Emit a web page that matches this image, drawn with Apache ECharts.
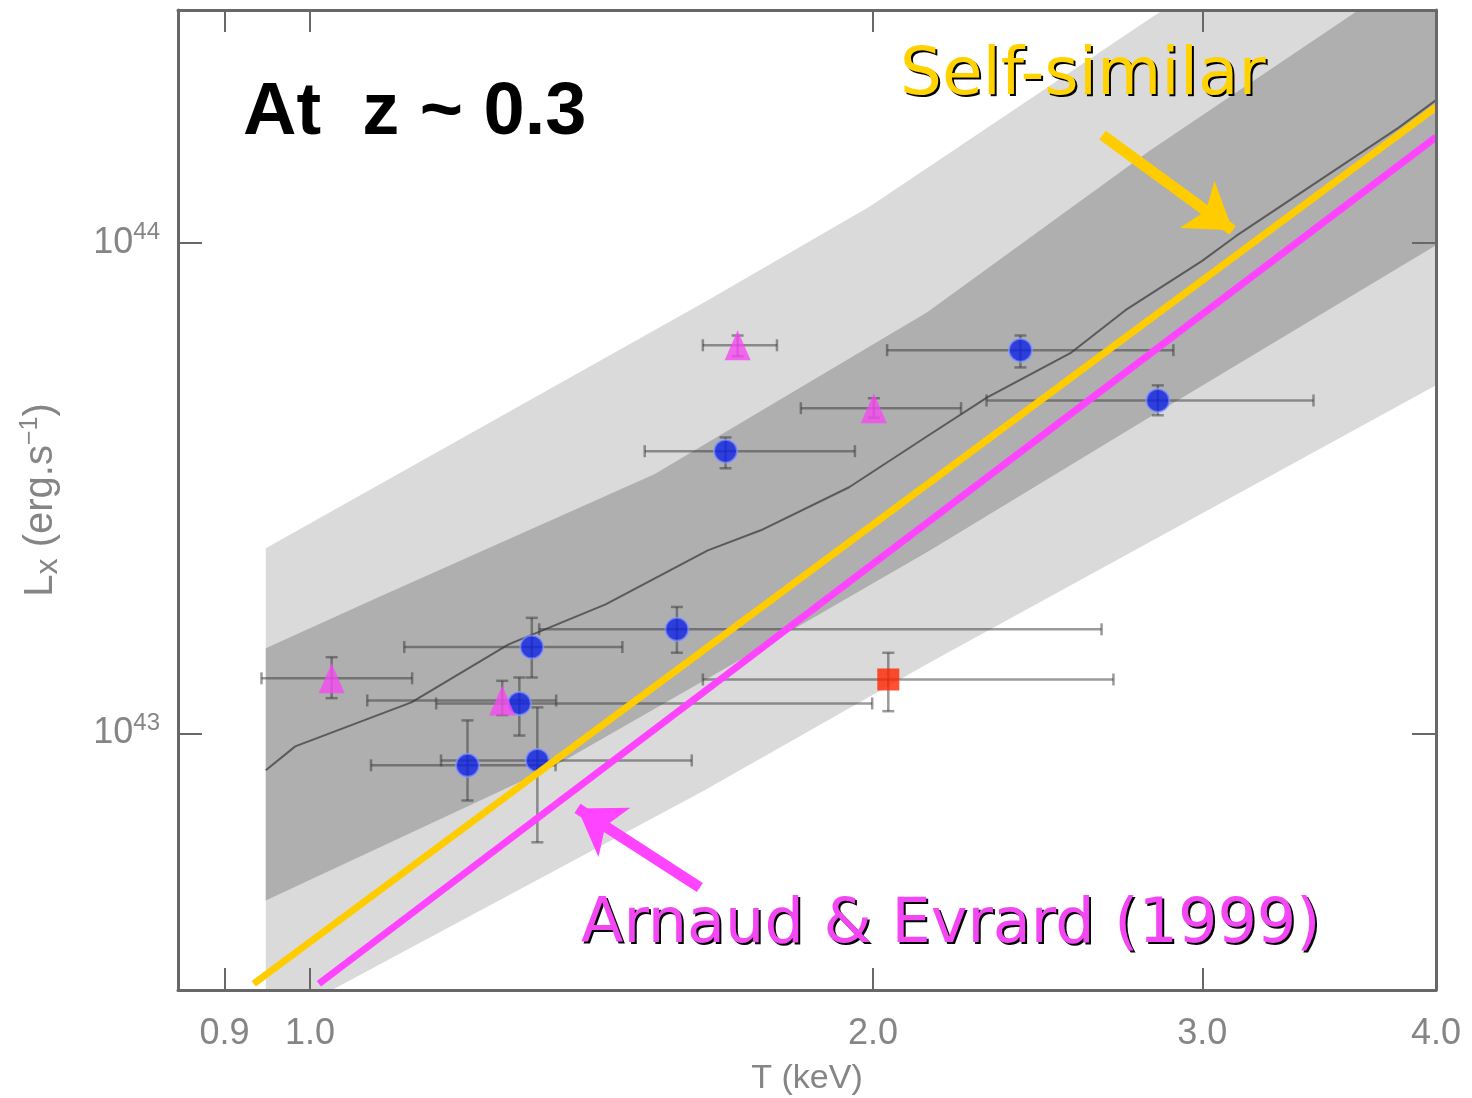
<!DOCTYPE html>
<html>
<head>
<meta charset="utf-8">
<title>Lx-T at z ~ 0.3</title>
<script src="https://cdn.jsdelivr.net/npm/echarts@6/dist/echarts.min.js"></script>
<style>
  html, body { margin: 0; padding: 0; background: #fff; }
  #chart { width: 1472px; height: 1098px; }
</style>
</head>
<body>
<div id="chart"></div>
<script>
// axis ranges (T in keV, Lx in erg/s)
const tRange = [0.85, 4.0]
const lRange = [3.0e42, 2.98e44]
const tTicks = [0.9, 1.0, 2.0, 3.0, 4.0]
const lTicks = [1e43, 1e44]

// clusters: [T, Lx, Tlow, Thigh, Llow, Lhigh]
const blueClusters = [
  [2.398, 6.04e43, 2.035, 2.895, 5.57e43, 6.47e43],
  [2.840, 4.77e43, 2.300, 3.440, 4.45e43, 5.12e43],
  [1.668, 3.76e43, 1.510, 1.956, 3.47e43, 4.01e43],
  [1.571, 1.63e43, 1.326, 2.650, 1.46e43, 1.81e43],
  [1.314, 1.50e43, 1.123, 1.469, 1.30e43, 1.72e43],
  [1.294, 1.151e43, 1.168, 1.998, 0.99e43, 1.30e43],
  [1.214, 8.61e42, 1.078, 1.353, 7.30e42, 1.063e43],
  [1.323, 8.81e42, 1.175, 1.600, 6.00e42, 1.13e43]
]
const magentaClusters = [
  [1.693, 6.18e43, 1.622, 1.777, 5.87e43, 6.47e43],
  [2.002, 4.60e43, 1.830, 2.229, 4.40e43, 4.82e43],
  [1.027, 1.295e43, 0.942, 1.134, 1.18e43, 1.43e43],
  [1.267, 1.167e43, 1.073, 1.354, 1.09e43, 1.28e43]
]
const redClusters = [
  [2.038, 1.288e43, 1.622, 2.689, 1.11e43, 1.46e43]
]

// simulation envelopes and median
const outerUpper = [[0.947, 2.384e43], [1.632, 7.63e43], [1.993, 1.187e44], [2.821, 2.883e44], [4.0, 6.93e44]]
const outerLower = [[0.947, 2.53e42], [1.024, 2.98e42], [1.622, 7.62e42], [2.146, 1.396e43], [4.0, 5.124e43]]
const innerUpper = [[0.947, 1.491e43], [1.093, 1.911e43], [1.528, 3.373e43], [2.138, 7.215e43], [2.814, 1.544e44], [3.584, 2.869e44], [4.0, 3.80e44]]
const innerLower = [[0.947, 4.565e42], [1.356, 8.646e42], [1.775, 1.555e43], [2.146, 2.361e43], [2.794, 4.346e43], [4.0, 9.88e43]]
const median = [
  [0.947, 8.41e42], [0.982, 9.41e42], [1.133, 1.157e43], [1.277, 1.519e43],
  [1.439, 1.832e43], [1.632, 2.361e43], [1.742, 2.594e43], [1.942, 3.174e43],
  [2.146, 4.07e43], [2.302, 4.84e43], [2.550, 5.954e43], [2.729, 7.285e43],
  [2.998, 9.17e43], [3.126, 1.031e44], [3.817, 1.712e44], [4.0, 1.952e44]
]

// relations
const selfSimilar = [[0.933, 3.09e42], [4.0, 1.889e44]]
const arnaudEvrard = [[1.011, 3.09e42], [4.0, 1.641e44]]

// annotation arrows [from, tip]
const selfSimilarArrow = [[2.653, 1.657e44], [3.114, 1.060e44]]
const arnaudArrow = [[1.616, 4.853e42], [1.390, 7.034e42]]

const lg = v => Math.log10(v)
const toLog = p => [lg(p[0]), lg(p[1])]

const FONT = 'Liberation Sans, Arial, sans-serif'
const AXIS_GREY = '#686868'
const LABEL_GREY = '#858585'

function bandSeries(upper, lower, color) {
  const pts = upper.concat(lower.slice().reverse()).map(toLog)
  return {
    type: 'custom',
    clip: true,
    silent: true,
    z: 1,
    data: [pts[0]],
    renderItem(params, api) {
      return {
        type: 'polygon',
        shape: { points: pts.map(p => api.coord(p)) },
        style: { fill: color }
      }
    }
  }
}

function errorBars(clusters) {
  return {
    type: 'custom',
    silent: true,
    z: 3,
    data: clusters.map(c => c.map(v => lg(v))),
    renderItem(params, api) {
      const x = api.value(0)
      const y = api.value(1)
      const xl = api.coord([api.value(2), y])
      const xh = api.coord([api.value(3), y])
      const yl = api.coord([x, api.value(4)])
      const yh = api.coord([x, api.value(5)])
      const cap = 6
      const style = { stroke: 'rgba(55,55,55,0.5)', lineWidth: 2.5 }
      const seg = (x1, y1, x2, y2) => ({ type: 'line', shape: { x1, y1, x2, y2 }, style })
      return {
        type: 'group',
        children: [
          seg(xl[0], xl[1], xh[0], xh[1]),
          seg(xl[0], xl[1] - cap, xl[0], xl[1] + cap),
          seg(xh[0], xh[1] - cap, xh[0], xh[1] + cap),
          seg(yl[0], yl[1], yh[0], yh[1]),
          seg(yl[0] - cap, yl[1], yl[0] + cap, yl[1]),
          seg(yh[0] - cap, yh[1], yh[0] + cap, yh[1])
        ]
      }
    }
  }
}

function relationLine(points, color, arrow) {
  return {
    type: 'line',
    data: points.map(toLog),
    symbol: 'none',
    silent: true,
    z: 6,
    lineStyle: { color, width: 7 },
    markLine: {
      silent: true,
      symbol: ['none', 'arrow'],
      symbolSize: 44,
      label: { show: false },
      lineStyle: { color, width: 11, type: 'solid' },
      data: [[{ coord: toLog(arrow[0]) }, { coord: toLog(arrow[1]) }]]
    }
  }
}

// outlined annotation text: black copy underneath, coloured copy on top
function shadowText(text, left, top, size, color) {
  const textStyle = { fontFamily: 'DejaVu Sans', fontWeight: 'normal', fontSize: size }
  return [
    { text, left: left + 2, top: top + 2, textStyle: { ...textStyle, color: '#000' } },
    { text, left, top, textStyle: { ...textStyle, color } }
  ]
}

const tTickVals = tTicks.map(lg)
const lTickVals = lTicks.map(lg)
const xMin = lg(tRange[0])
const xMax = lg(tRange[1])
const yMin = lg(lRange[0])
const yMax = lg(lRange[1])

const axisLine = { show: true, onZero: false, lineStyle: { color: AXIS_GREY, width: 3 } }
const tickStyle = { color: AXIS_GREY, width: 2 }

const chart = echarts.init(document.getElementById('chart'))

chart.setOption({
  animation: false,
  backgroundColor: '#fff',
  grid: { left: 178, right: 36, top: 10, bottom: 108, outerBoundsMode: 'none' },
  title: [
    {
      text: 'At  z ~ 0.3', left: 238, top: 72,
      textStyle: { fontFamily: FONT, fontWeight: 'bold', fontSize: 74, color: '#000' }
    },
    ...shadowText('Self-similar', 895, 39, 66, '#FFD200'),
    ...shadowText('Arnaud & Evrard (1999)', 576, 890, 62, '#F347F3')
  ],
  xAxis: [
    {
      type: 'value', min: xMin, max: xMax, position: 'bottom', z: 10,
      axisLine,
      axisTick: { show: true, inside: true, length: 22, customValues: tTickVals, lineStyle: tickStyle },
      axisLabel: {
        customValues: tTickVals,
        formatter: v => Math.pow(10, v).toFixed(1),
        fontFamily: FONT, fontSize: 36, color: LABEL_GREY, margin: 26
      },
      splitLine: { show: false },
      name: 'T (keV)', nameLocation: 'middle', nameGap: 72,
      nameTextStyle: { fontFamily: FONT, fontSize: 34, color: LABEL_GREY }
    },
    {
      type: 'value', min: xMin, max: xMax, position: 'top', z: 10,
      axisLine,
      axisTick: { show: true, inside: true, length: 22, customValues: tTickVals, lineStyle: tickStyle },
      axisLabel: { show: false },
      splitLine: { show: false }
    }
  ],
  yAxis: [
    {
      type: 'value', min: yMin, max: yMax, position: 'left', z: 10,
      axisLine,
      axisTick: { show: true, inside: true, length: 24, customValues: lTickVals, lineStyle: tickStyle },
      axisLabel: {
        customValues: lTickVals,
        formatter: v => '{b|10}{s|' + Math.round(v) + '}',
        margin: 18,
        rich: {
          b: { fontFamily: FONT, fontSize: 36, color: LABEL_GREY, lineHeight: 44 },
          s: { fontFamily: FONT, fontSize: 24, color: LABEL_GREY, lineHeight: 26, verticalAlign: 'top' }
        }
      },
      splitLine: { show: false },
      name: '{n|L}{x|x}{n| (erg.s}{s|−1}{n|)}',
      nameLocation: 'middle', nameRotate: 90, nameGap: 114,
      nameTextStyle: {
        rich: {
          n: { fontFamily: FONT, fontSize: 40, color: LABEL_GREY, lineHeight: 46 },
          x: { fontFamily: FONT, fontSize: 32, color: LABEL_GREY, lineHeight: 40, verticalAlign: 'bottom' },
          s: { fontFamily: FONT, fontSize: 25, color: LABEL_GREY, lineHeight: 26, verticalAlign: 'top' }
        }
      }
    },
    {
      type: 'value', min: yMin, max: yMax, position: 'right', z: 10,
      axisLine,
      axisTick: { show: true, inside: true, length: 24, customValues: lTickVals, lineStyle: tickStyle },
      axisLabel: { show: false },
      splitLine: { show: false }
    }
  ],
  series: [
    bandSeries(outerUpper, outerLower, '#dadada'),
    bandSeries(innerUpper, innerLower, '#afafaf'),
    {
      type: 'line',
      data: median.map(toLog),
      symbol: 'none',
      silent: true,
      z: 2,
      lineStyle: { color: '#5a5a5a', width: 2 }
    },
    errorBars(blueClusters),
    errorBars(magentaClusters),
    errorBars(redClusters),
    {
      type: 'scatter',
      data: blueClusters.map(toLog),
      symbol: 'circle',
      symbolSize: 23,
      z: 4,
      itemStyle: { color: '#0c22e6', borderColor: 'rgba(140,155,255,0.8)', borderWidth: 2 }
    },
    {
      type: 'scatter',
      data: magentaClusters.map(toLog),
      symbol: 'triangle',
      symbolSize: [26, 30],
      z: 4,
      itemStyle: { color: '#f54af2' }
    },
    {
      type: 'scatter',
      data: redClusters.map(toLog),
      symbol: 'rect',
      symbolSize: 22,
      z: 4,
      itemStyle: { color: '#ff2400' }
    },
    relationLine(selfSimilar, '#ffcc00', selfSimilarArrow),
    relationLine(arnaudEvrard, '#ff44ff', arnaudArrow)
  ]
})
</script>
</body>
</html>
